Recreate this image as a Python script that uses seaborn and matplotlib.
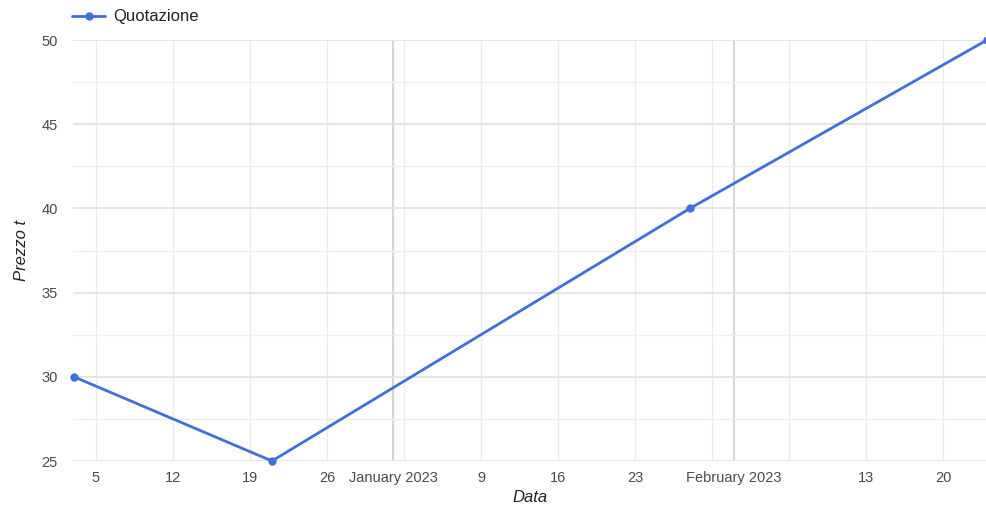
import matplotlib
matplotlib.use("Agg")
import matplotlib.pyplot as plt
import matplotlib.dates as mdates
from matplotlib.ticker import FixedLocator, MultipleLocator
import seaborn as sns
import pandas as pd

dates = ["2022-12-03", "2022-12-21", "2023-01-28", "2023-02-24"]
prices = [30, 25, 40, 50]
series_name = "Quotazione"

tick_dates = ["2022-12-05", "2022-12-12", "2022-12-19", "2022-12-26", "2023-01-01",
              "2023-01-02", "2023-01-09", "2023-01-16", "2023-01-23", "2023-01-30",
              "2023-02-01", "2023-02-06", "2023-02-13", "2023-02-20"]
tick_labels = ["5", "12", "19", "26", "January 2023", "", "9", "16", "23", "",
               "February 2023", "", "13", "20"]
month_dates = ["2023-01-01", "2023-02-01"]

sns.set_theme(style="white")
plt.rcParams['font.family'] = ['Liberation Sans', 'DejaVu Sans']

df = pd.DataFrame({"Data": pd.to_datetime(dates), "Prezzo": prices, "serie": series_name})

fig = plt.figure(figsize=(9.87, 5.05), dpi=100)
ax = fig.add_axes([73/987, 1 - 461/505, 1 - 73/987, (461 - 40)/505])

color = "#3f6fd8"
sns.lineplot(data=df, x="Data", y="Prezzo", hue="serie", palette=[color], marker="o",
             markersize=6, markeredgewidth=0, linewidth=2, ax=ax, legend=False)
for ln in ax.lines:
    ln.set_clip_on(False)

ax.set_xlim(pd.Timestamp("2022-12-02 22:00"), pd.Timestamp("2023-02-24"))
ax.set_ylim(25, 50)

tick_nums = [mdates.date2num(pd.Timestamp(d)) for d in tick_dates]
ax.xaxis.set_major_locator(FixedLocator(tick_nums))
ax.set_xticklabels(tick_labels)
ax.yaxis.set_major_locator(MultipleLocator(5))
ax.yaxis.set_minor_locator(MultipleLocator(2.5))

ax.grid(False)
for t in tick_nums:
    ax.axvline(t, color="#ebebeb", linewidth=1, zorder=0)
for m in month_dates:
    ax.axvline(mdates.date2num(pd.Timestamp(m)), color="#d3d3d3", linewidth=1.3, zorder=0)
for y in [25, 30, 35, 40, 45, 50]:
    ax.axhline(y, color="#e3e3e3", linewidth=1.3, zorder=0)
for y in [27.5, 32.5, 37.5, 42.5, 47.5]:
    ax.axhline(y, color="#efefef", linewidth=1, zorder=0)

for s in ax.spines.values():
    s.set_visible(False)
ax.tick_params(axis="both", length=0, labelsize=10.5, colors="#4a4a4a")
ax.tick_params(axis="y", pad=11)
ax.tick_params(axis="x", pad=7)

ax.set_xlabel("Data", fontsize=12, fontstyle="italic", color="#222222", labelpad=4)
ax.set_ylabel("Prezzo t", fontsize=12, fontstyle="italic", color="#222222", labelpad=9)

handle, = ax.plot([], [], color=color, marker="o", markersize=6, markeredgewidth=0, linewidth=2)
fig.legend([handle], [series_name], loc="center left", bbox_to_anchor=(57/987, 1 - 17/505),
           frameon=False, fontsize=12, handlelength=2.0, handletextpad=0.5,
           labelcolor="#222222")

fig.savefig("out.png", dpi=100)
